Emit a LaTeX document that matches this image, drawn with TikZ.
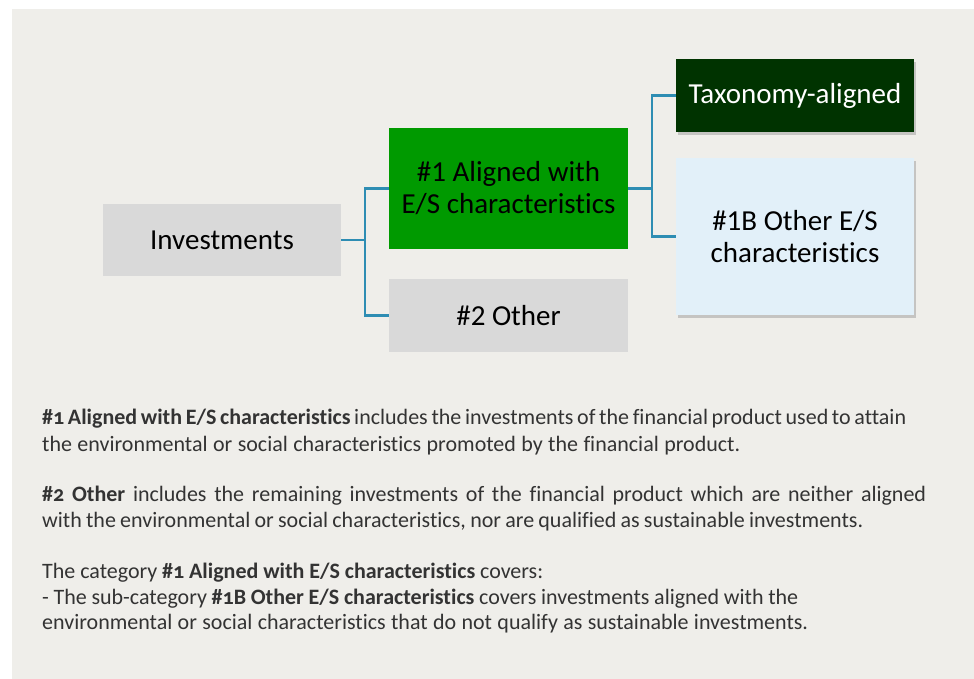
\documentclass[tikz,border=0pt]{standalone}
\usepackage{fontspec}
\setmainfont[Ligatures=NoCommon]{Carlito}
\newfontfamily\bodyfont[Numbers=OldStyle,Ligatures=NoCommon]{Carlito}
\usetikzlibrary{shadows}
\definecolor{bgpanel}{HTML}{EFEEEA}
\definecolor{boxgray}{HTML}{D9D9D9}
\definecolor{aligngreen}{HTML}{009A00}
\definecolor{taxgreen}{HTML}{003300}
\definecolor{lightblue}{HTML}{E2F0F9}
\definecolor{conncol}{HTML}{2E8DB3}
\definecolor{bodytext}{HTML}{333333}
\tikzset{
  box/.style={rectangle, inner sep=0pt, align=center, font=\fontsize{29}{32}\selectfont, text=black},
  shbox/.style={box, drop shadow={shadow xshift=2pt, shadow yshift=-3pt, opacity=0.3, fill=black!60}},
  conn/.style={draw=conncol, line width=2.2pt},
  bodyline/.style={anchor=base west, inner sep=0pt, text=bodytext, font=\bodyfont\fontsize{22}{26}\selectfont}
}
\begin{document}
\begin{tikzpicture}[x=1pt,y=-1pt]
\useasboundingbox (0,0) rectangle (974,679);
\fill[bgpanel] (12,9) rectangle (974,679);

\node[box, fill=boxgray, minimum width=238pt, minimum height=72pt] (inv) at (222,240) {Investments};
\node[box, fill=aligngreen, minimum width=239pt, minimum height=121pt] (al) at (508.5,188.5) {\#1 Aligned with\\E/S characteristics};
\node[box, fill=boxgray, minimum width=239pt, minimum height=73pt] (oth) at (508.5,315.5) {\#2 Other};
\node[shbox, fill=taxgreen, text=white, minimum width=238pt, minimum height=73pt] (tax) at (795,95.5) {Taxonomy-aligned};
\node[shbox, fill=lightblue, minimum width=238pt, minimum height=157pt] (ob) at (795,236.5) {\#1B Other E/S\\characteristics};

\draw[conn] (inv.east) -- ++(24,0) |- (al.west);
\draw[conn] (inv.east) -- ++(24,0) |- (oth.west);
\draw[conn] (al.east) -- ++(24,0) |- (tax.west);
\draw[conn] (al.east) -- ++(24,0) |- (ob.west);

\node[bodyline] (l1) at (42,424) {\makebox[864pt][s]{\textbf{\#1 Aligned with E/S characteristics} includes the investments of the financial product used to attain}};
\node[bodyline] (l2) at (42,451) {\makebox[698pt][s]{the environmental or social characteristics promoted by the financial product.}};
\node[bodyline] (l3) at (42,501) {\makebox[884pt][s]{\textbf{\#2 Other} includes the remaining investments of the financial product which are neither aligned}};
\node[bodyline] (l4) at (42,527) {\makebox[821pt][s]{with the environmental or social characteristics, nor are qualified as sustainable investments.}};
\node[bodyline] (l5) at (42,578) {\makebox[501pt][s]{The category \textbf{\#1 Aligned with E/S characteristics} covers:}};
\node[bodyline] (l6) at (42,604) {\makebox[756pt][s]{- The sub-category \textbf{\#1B Other E/S characteristics} covers investments aligned with the}};
\node[bodyline] (l7) at (42,629) {\makebox[766pt][s]{environmental or social characteristics that do not qualify as sustainable investments.}};
\end{tikzpicture}
\end{document}
